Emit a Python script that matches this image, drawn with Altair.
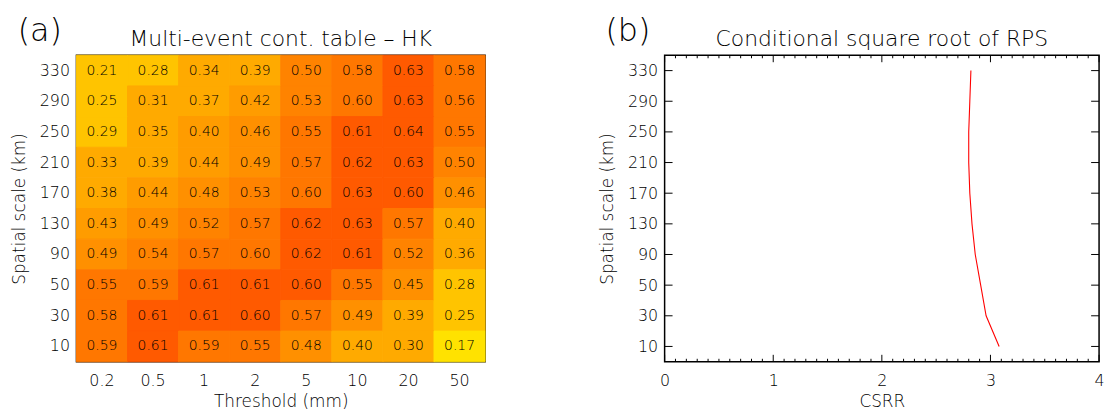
import altair as alt
import pandas as pd

FONT = "DejaVu Sans"

# ---------------- data ----------------
thresholds = ["0.2", "0.5", "1", "2", "5", "10", "20", "50"]
scales_top_down = ["330", "290", "250", "210", "170", "130", "90", "50", "30", "10"]

hk_330 = [0.21, 0.28, 0.34, 0.39, 0.50, 0.58, 0.63, 0.58]
hk_290 = [0.25, 0.31, 0.37, 0.42, 0.53, 0.598, 0.63, 0.56]
hk_250 = [0.29, 0.35, 0.402, 0.46, 0.55, 0.61, 0.64, 0.55]
hk_210 = [0.33, 0.39, 0.44, 0.49, 0.57, 0.62, 0.63, 0.50]
hk_170 = [0.38, 0.44, 0.48, 0.53, 0.598, 0.63, 0.602, 0.46]
hk_130 = [0.43, 0.49, 0.52, 0.57, 0.62, 0.63, 0.57, 0.398]
hk_90 = [0.49, 0.54, 0.57, 0.598, 0.62, 0.61, 0.52, 0.36]
hk_50 = [0.55, 0.59, 0.61, 0.61, 0.602, 0.55, 0.45, 0.28]
hk_30 = [0.58, 0.61, 0.61, 0.602, 0.57, 0.49, 0.39, 0.25]
hk_10 = [0.59, 0.61, 0.59, 0.55, 0.48, 0.398, 0.30, 0.17]
hk_rows = [hk_330, hk_290, hk_250, hk_210, hk_170, hk_130, hk_90, hk_50, hk_30, hk_10]

color_breaks = [0.2, 0.3, 0.4, 0.45, 0.5, 0.55, 0.6]
color_range = ["#FFE200", "#FFC400", "#FFAA00", "#FF9C00", "#FF9000",
               "#FF8300", "#FF7700", "#FF5A00"]

scales_bottom_up = ["10", "30", "50", "90", "130", "170", "210", "250", "290", "330"]
csrr = [3.08, 2.96, 2.91, 2.86, 2.83, 2.81, 2.80, 2.80, 2.81, 2.82]

x_major = [0, 1, 2, 3, 4]
x_minor = [0.1, 0.2, 0.3, 0.4, 0.5, 0.6, 0.7, 0.8, 0.9,
           1.1, 1.2, 1.3, 1.4, 1.5, 1.6, 1.7, 1.8, 1.9,
           2.1, 2.2, 2.3, 2.4, 2.5, 2.6, 2.7, 2.8, 2.9,
           3.1, 3.2, 3.3, 3.4, 3.5, 3.6, 3.7, 3.8, 3.9]

title_a = "Multi-event cont. table \u2013 HK"
title_b = "Conditional square root of RPS"

# ---------------- layout ----------------
W1, W2, H = 412, 438, 309
TXT = "#000000"
LW = 300  # light font weight

records = []
for s, row in zip(scales_top_down, hk_rows):
    for t, v in zip(thresholds, row):
        records.append({"threshold": t, "scale": s, "hk": v})
hk_df = pd.DataFrame(records)

xh = alt.X("threshold:N", sort=thresholds,
           scale=alt.Scale(paddingInner=0, paddingOuter=0),
           axis=alt.Axis(title="Threshold (mm)", ticks=False, domain=False,
                         labelAngle=0, labelPadding=11, titlePadding=5))
yh = alt.Y("scale:N", sort=scales_top_down,
           scale=alt.Scale(paddingInner=0, paddingOuter=0),
           axis=alt.Axis(title="Spatial scale (km)", ticks=False, domain=False,
                         labelPadding=7, titlePadding=11))
cscale = alt.Scale(type="threshold", domain=color_breaks, range=color_range)

rect = alt.Chart(hk_df).mark_rect(strokeWidth=1).encode(
    x=xh, y=yh,
    color=alt.Color("hk:Q", scale=cscale, legend=None),
    stroke=alt.Stroke("hk:Q", scale=cscale, legend=None),
)
cell_txt = alt.Chart(hk_df).mark_text(font=FONT, fontSize=14, fontWeight=LW,
                                      color="#000000").encode(
    x=xh, y=yh, text=alt.Text("hk:Q", format=".2f"))


def header(tag, title, w):
    tag_m = alt.Chart(pd.DataFrame({"t": [tag]})).mark_text(
        font=FONT, fontSize=32, fontWeight=LW, color=TXT, align="center",
        baseline="middle", clip=False
    ).encode(x=alt.value(-37), y=alt.value(-24), text="t:N")
    title_m = alt.Chart(pd.DataFrame({"t": [title]})).mark_text(
        font=FONT, fontSize=22, fontWeight=LW, color=TXT, align="center",
        baseline="middle", clip=False
    ).encode(x=alt.value(w / 2), y=alt.value(-16), text="t:N")
    return [tag_m, title_m]


left = alt.layer(rect, cell_txt, *header("(a)", title_a, W1)).properties(
    width=W1, height=H)

# right panel
line_df = pd.DataFrame({"scale": scales_bottom_up, "csrr": csrr, "k": list(range(10))})
yscale = alt.Scale(type="point", domain=scales_top_down, padding=0.5)
xscale = alt.Scale(domain=[0, 4], nice=False, zero=False)
xaxis = alt.Axis(title="CSRR", values=x_major, format="d", ticks=False,
                 domain=False, grid=False, labelPadding=11, titlePadding=5,
                 labelFlush=False)
yaxis = alt.Axis(title="Spatial scale (km)", ticks=False, domain=False,
                 labelPadding=7, titlePadding=11)

line = alt.Chart(line_df).mark_line(color="#FF0000", strokeWidth=1.1).encode(
    x=alt.X("csrr:Q", scale=xscale, axis=xaxis),
    y=alt.Y("scale:N", scale=yscale, axis=yaxis),
    order="k:Q",
)

ydf = pd.DataFrame({"scale": scales_top_down})
ytick_l = alt.Chart(ydf).mark_rule(color="black", strokeWidth=1).encode(
    y=alt.Y("scale:N", scale=yscale, axis=yaxis), x=alt.value(0), x2=alt.value(8))
ytick_r = alt.Chart(ydf).mark_rule(color="black", strokeWidth=1).encode(
    y=alt.Y("scale:N", scale=yscale, axis=yaxis), x=alt.value(W2 - 8), x2=alt.value(W2))

maj_df = pd.DataFrame({"v": x_major})
min_df = pd.DataFrame({"v": x_minor})
xt = []
for d, ln in ((maj_df, 7), (min_df, 3)):
    xt.append(alt.Chart(d).mark_rule(color="black", strokeWidth=1).encode(
        x=alt.X("v:Q", scale=xscale, axis=xaxis), y=alt.value(H - ln), y2=alt.value(H)))
    xt.append(alt.Chart(d).mark_rule(color="black", strokeWidth=1).encode(
        x=alt.X("v:Q", scale=xscale, axis=xaxis), y=alt.value(0), y2=alt.value(ln)))

right = alt.layer(line, ytick_l, ytick_r, *xt, *header("(b)", title_b, W2)).properties(
    width=W2, height=H)

chart = alt.hconcat(left, right, spacing=111).configure(
    font=FONT, padding={"left": 1, "top": 5, "right": 2, "bottom": 2}
).configure_view(
    stroke="black", strokeWidth=1.5
).configure_axis(
    labelFont=FONT, labelFontSize=16, labelColor=TXT, labelFontWeight=LW,
    titleFont=FONT, titleFontSize=17, titleFontWeight=LW, titleColor=TXT,
    grid=False,
)

chart.save("out.html", embed_options={"renderer": "svg", "actions": False})
